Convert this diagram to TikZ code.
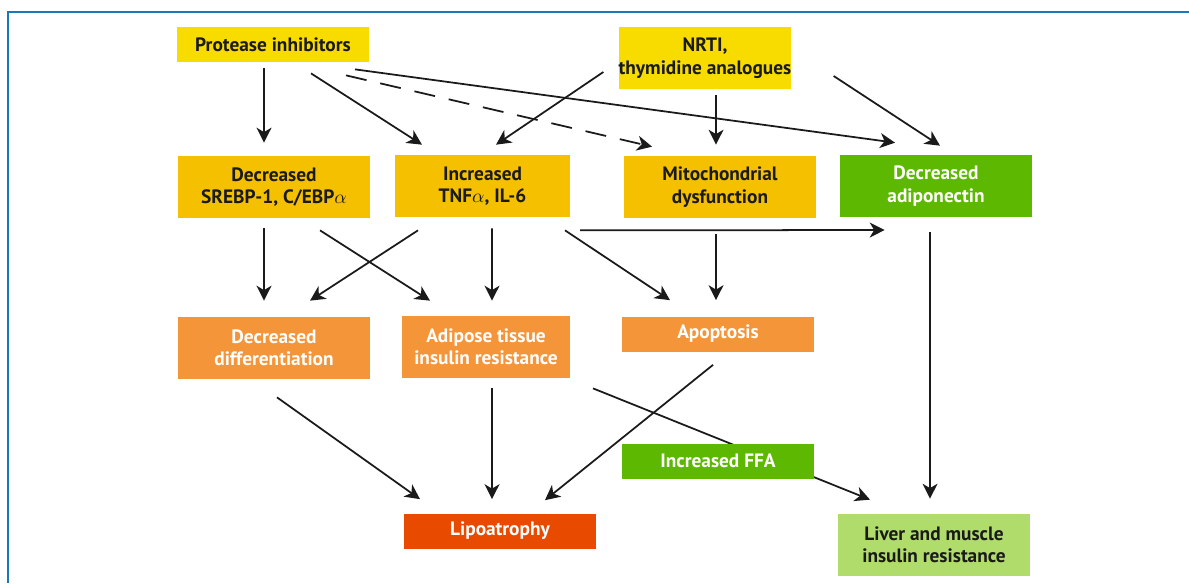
\documentclass[tikz,border=0pt]{standalone}
\usepackage{fontspec}
\setmainfont{PT Sans}
\usepackage{xcolor}
\usepackage{tikz}
\usetikzlibrary{arrows.meta,calc}
\definecolor{framblue}{RGB}{26,122,184}
\definecolor{drugyellow}{RGB}{248,220,0}
\definecolor{effgold}{RGB}{245,192,0}
\definecolor{adipgreen}{RGB}{92,184,0}
\definecolor{celorange}{RGB}{245,149,58}
\definecolor{lipored}{RGB}{232,74,0}
\definecolor{liverlgreen}{RGB}{176,220,108}
\definecolor{inkdark}{RGB}{26,26,26}

\begin{document}
\begin{tikzpicture}[x=0.02cm,y=-0.02cm,
    box/.style={inner sep=0pt,minimum width=3.84cm,minimum height=1.24cm,align=center,
      font=\bfseries\fontsize{11}{12.8}\selectfont},
    lowbox/.style={box,minimum height=0.7cm},
    darktxt/.style={text=inkdark},
    lighttxt/.style={text=white},
    link/.style={line width=1pt,draw=inkdark,-{Stealth[length=8.5pt,width=8.5pt,inset=2.5pt]}}]
    \useasboundingbox (0,0) rectangle (1189,583);
    \draw[framblue,line width=1.2pt] (1189,12) -- (8,12) -- (8,583);

    \node[lowbox,darktxt,fill=drugyellow] (pi) at (273,44.5) {Protease inhibitors};
    \node[box,darktxt,fill=drugyellow,minimum width=3.4cm] (nrti) at (705,58) {NRTI,\\thymidine analogues};

    \node[box,darktxt,fill=effgold] (srebp) at (274,187) {Decreased\\SREBP-1, C/EBP$\alpha$};
    \node[box,darktxt,fill=effgold,minimum width=3.5cm] (tnf) at (482.5,186) {Increased\\TNF$\alpha$, IL-6};
    \node[box,darktxt,fill=effgold] (mito) at (720,187) {Mitochondrial\\dysfunction};
    \node[box,lighttxt,fill=adipgreen] (adipo) at (936,186) {Decreased\\adiponectin};

    \node[box,lighttxt,fill=celorange] (diff) at (274,348) {Decreased\\differentiation};
    \node[box,lighttxt,fill=celorange,minimum width=3.36cm] (atir) at (486,347) {Adipose tissue\\insulin resistance};
    \node[lowbox,lighttxt,fill=celorange] (apop) at (718,334) {Apoptosis};

    \node[lowbox,lighttxt,fill=lipored] (lipo) at (500,531) {Lipoatrophy};
    \node[box,darktxt,fill=liverlgreen] (liver) at (934,545) {Liver and muscle\\insulin resistance};

    \draw[link] ($(pi.south)+(-9,6)$) -- ($(srebp.north)+(-10,-13)$);
    \draw[link] ($(pi.south)+(38,11)$) -- ($(tnf.north)+(-60.5,-10)$);
    \draw[link,dash pattern=on 12pt off 8pt] ($(pi.south)+(73,13)$) -- ($(mito.north)+(-68,-9)$);
    \draw[link] ($(pi.south)+(82,7)$) -- ($(adipo.north)+(-41,-12)$);
    \draw[link] ($(nrti.west)+(-15,14)$) -- ($(tnf.north)+(13.5,-10)$);
    \draw[link] ($(nrti.south)+(11,6)$) -- ($(mito.north)+(-4,-11)$);
    \draw[link] ($(nrti.east)+(42,18)$) -- ($(adipo.north)+(4,-9)$);

    \draw[link] ($(srebp.south)+(-10,10)$) -- ($(diff.north)+(-10,-16)$);
    \draw[link] ($(srebp.south)+(46,12)$) -- ($(atir.north)+(-56,-15)$);
    \draw[link] ($(tnf.south)+(-64.5,13)$) -- ($(diff.north)+(36,-16)$);
    \draw[link] ($(tnf.south)+(9.5,11)$) -- ($(atir.north)+(6,-15)$);
    \draw[link] ($(tnf.south)+(82.5,13)$) -- ($(apop.north)+(-48,-16)$);
    \draw[link] ($(tnf.south)+(97.5,13)$) -- ($(adipo.west)+(45,44)$);
    \draw[link] ($(mito.south)+(-4,16)$) -- ($(apop.north)+(-2,-16)$);
    \draw[link] ($(adipo.south)+(-6,15)$) -- ($(liver.north)+(-4,-15)$);

    \draw[link] ($(diff.south)+(3,18)$) -- ($(lipo.north)+(-80,-14)$);
    \draw[link] ($(atir.south)+(6,10)$) -- ($(lipo.north)+(-8,-14)$);
    \draw[link] ($(apop.south)+(-5,13)$) -- ($(lipo.north)+(45,-13)$);
    \draw[link] ($(atir.south)+(107,10)$) -- ($(liver.north)+(-64,-14)$);

    \node[lowbox,lighttxt,fill=adipgreen] (ffa) at (718,461) {Increased FFA};
\end{tikzpicture}
\end{document}
